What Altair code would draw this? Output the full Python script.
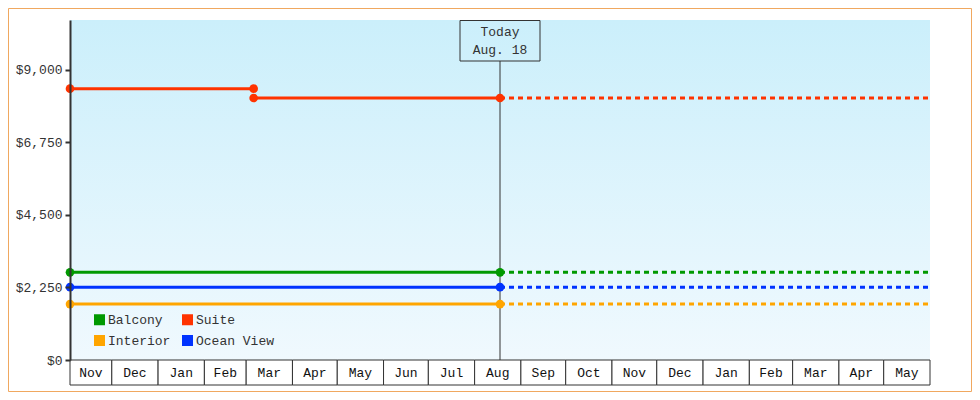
import altair as alt
import pandas as pd

# ---------------- data ----------------
series = ["Balcony", "Suite", "Interior", "Ocean View"]
colors = ["#009900", "#ff3300", "#ffa500", "#0033ff"]

# price history segments
seg_series = ["Suite", "Suite", "Balcony", "Ocean View", "Interior"]
seg_start = ["2022-11-03", "2023-03-06", "2022-11-03", "2022-11-03", "2022-11-03"]
seg_end = ["2023-03-06", "2023-08-18", "2023-08-18", "2023-08-18", "2023-08-18"]
seg_price = [8420, 8130, 2720, 2260, 1735]

# projected (current) prices carried forward
proj_series = ["Suite", "Balcony", "Ocean View", "Interior"]
proj_price = [8130, 2720, 2260, 1735]

today = "2023-08-18"
today_label = ["Today", "Aug. 18"]
domain_start = "2022-11-03"
domain_end = "2024-06-01"

month_starts = ["2022-11-01", "2022-12-01", "2023-01-01", "2023-02-01", "2023-03-01",
                "2023-04-01", "2023-05-01", "2023-06-01", "2023-07-01", "2023-08-01",
                "2023-09-01", "2023-10-01", "2023-11-01", "2023-12-01", "2024-01-01",
                "2024-02-01", "2024-03-01", "2024-04-01", "2024-05-01", "2024-06-01"]
month_labels = ["Nov", "Dec", "Jan", "Feb", "Mar", "Apr", "May", "Jun", "Jul", "Aug",
                "Sep", "Oct", "Nov", "Dec", "Jan", "Feb", "Mar", "Apr", "May"]

y_ticks = [0, 2250, 4500, 6750, 9000]
y_max = 10550

# ---------------- helpers ----------------
def iso(s):
    return pd.Timestamp(s).strftime("%Y-%m-%dT%H:%M:%SZ")

def dt(s):
    t = pd.Timestamp(s)
    return alt.DateTime(year=t.year, month=t.month, date=t.day, utc=True)

ds, de = pd.Timestamp(domain_start), pd.Timestamp(domain_end)

hist = pd.DataFrame({
    "series": seg_series,
    "start": [iso(s) for s in seg_start],
    "end": [iso(s) for s in seg_end],
    "price": seg_price,
})
proj = pd.DataFrame({
    "series": proj_series,
    "start": [iso(today)] * len(proj_series),
    "end": [iso(domain_end)] * len(proj_series),
    "price": proj_price,
})
pts = pd.concat([
    pd.DataFrame({"series": seg_series, "date": [iso(s) for s in seg_start], "price": seg_price}),
    pd.DataFrame({"series": seg_series, "date": [iso(s) for s in seg_end], "price": seg_price}),
])

b_start, b_end, b_mid = [], [], []
for i, lab in enumerate(month_labels):
    a = max(pd.Timestamp(month_starts[i]), ds)
    b = min(pd.Timestamp(month_starts[i + 1]), de)
    b_start.append(a.strftime("%Y-%m-%dT%H:%M:%SZ"))
    b_end.append(b.strftime("%Y-%m-%dT%H:%M:%SZ"))
    b_mid.append((a + (b - a) / 2).strftime("%Y-%m-%dT%H:%M:%SZ"))
bands = pd.DataFrame({"start": b_start, "end": b_end, "mid": b_mid, "label": month_labels})

# ---------------- scales / styling ----------------
FONT = "Liberation Mono"
W, H = 860, 340
xscale = alt.Scale(type="utc", domain=[dt(domain_start), dt(domain_end)])
yscale = alt.Scale(domain=[0, y_max], nice=False, zero=True)
yaxis = alt.Axis(values=y_ticks, format="$,.0f", title=None, grid=False,
                 domainColor="#333333", domainWidth=2, tickColor="#333333", tickWidth=2,
                 tickSize=5, labelFont=FONT, labelFontSize=13, labelColor="#333333",
                 labelPadding=3, zindex=1)
cscale = alt.Scale(domain=series, range=colors)
legend = alt.Legend(title=None, orient="none", legendX=23, legendY=293, columns=2,
                    direction="horizontal",
                    symbolType="square", symbolSize=121, symbolStrokeWidth=0,
                    symbolOpacity=1, labelFont=FONT, labelFontSize=13,
                    labelColor="#333333", labelOffset=2, columnPadding=10,
                    rowPadding=7, padding=0)
color = alt.Color("series:N", scale=cscale, legend=legend, sort=series)

one = alt.Data(values=[{}])

border = alt.Chart(one).mark_rect(fill=None, stroke="#f0a860", strokeWidth=1).encode(
    x=alt.value(-61.5), x2=alt.value(W + 41.5), y=alt.value(-11.5), y2=alt.value(H + 31.5))

bg = alt.Chart(one).mark_rect(color=alt.LinearGradient(
    gradient="linear", x1=0, y1=0, x2=0, y2=1,
    stops=[alt.GradientStop(color="#cbeffb", offset=0),
           alt.GradientStop(color="#f0f9fe", offset=1)])).encode(
    x=alt.value(0), x2=alt.value(W), y=alt.value(0), y2=alt.value(H))

band_rect = alt.Chart(bands).mark_rect(fill="white", stroke="#333333", strokeWidth=1).encode(
    x=alt.X("start:T", scale=xscale, axis=None), x2="end:T",
    y=alt.value(H), y2=alt.value(H + 25))

band_text = alt.Chart(bands).mark_text(font=FONT, fontSize=13, color="#111111",
                                       baseline="middle", align="center").encode(
    x=alt.X("mid:T", scale=xscale, axis=None), y=alt.value(H + 13), text="label:N")

hist_rule = alt.Chart(hist).mark_rule(strokeWidth=3).encode(
    x=alt.X("start:T", scale=xscale, axis=None), x2="end:T",
    y=alt.Y("price:Q", scale=yscale, axis=yaxis), color=color)

proj_rule = alt.Chart(proj).mark_rule(strokeWidth=3, strokeDash=[5, 4]).encode(
    x=alt.X("start:T", scale=xscale, axis=None), x2="end:T",
    y=alt.Y("price:Q", scale=yscale, axis=yaxis), color=color)

points = alt.Chart(pts).mark_point(filled=True, size=75, opacity=1, shape="circle").encode(
    x=alt.X("date:T", scale=xscale, axis=None),
    y=alt.Y("price:Q", scale=yscale, axis=yaxis), color=color)

tdf = pd.DataFrame({"date": [iso(today)], "label": ["\n".join(today_label)]})

today_rule = alt.Chart(tdf).mark_rule(color="#333333", strokeWidth=1).encode(
    x=alt.X("date:T", scale=xscale, axis=None), y=alt.value(41), y2=alt.value(H))

today_box = alt.Chart(tdf).mark_rect(fill="#ffffff", fillOpacity=0, stroke="#333333",
                                     strokeWidth=1, xOffset=-40, x2Offset=40).encode(
    x=alt.X("date:T", scale=xscale, axis=None), x2="date:T",
    y=alt.value(0.5), y2=alt.value(41))

today_text = alt.Chart(tdf).mark_text(font=FONT, fontSize=13, color="#333333",
                                      lineBreak="\n", lineHeight=18, baseline="middle",
                                      align="center").encode(
    x=alt.X("date:T", scale=xscale, axis=None), y=alt.value(12), text="label:N")

chart = alt.layer(
    border, bg, band_rect, band_text, today_rule, today_box, today_text,
    hist_rule, proj_rule, points,
).properties(
    width=W, height=H, autosize="none",
    padding={"left": 62, "top": 12, "right": 42, "bottom": 32},
    background="white",
).configure_view(stroke=None)

chart.save("out.html", embed_options={"renderer": "svg", "actions": False})
